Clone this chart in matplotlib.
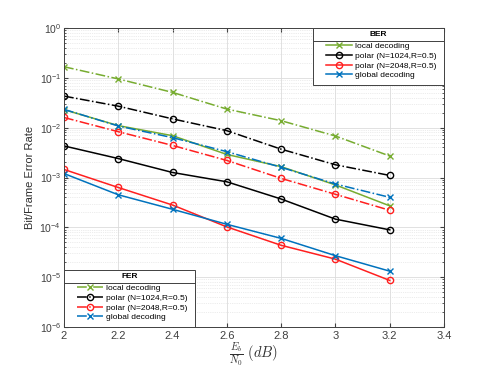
import numpy as np
import matplotlib.pyplot as plt
from matplotlib.patches import Rectangle

snr = [2.0, 2.2, 2.4, 2.6, 2.8, 3.0, 3.2]

# BER (solid)
ber_local = [0.023, 0.011, 0.0069, 0.0029, 0.00165, 0.00071, 0.00027]
ber_polar1024 = [0.0043, 0.0024, 0.00126, 0.00082, 0.00037, 0.000146, 0.000089]
ber_polar2048 = [0.00145, 0.00063, 0.00028, 0.000102, 0.0000436, 0.000023, 0.0000086]
ber_global = [0.0012, 0.00045, 0.00023, 0.000115, 0.00006, 0.000027, 0.0000132]

# FER (dash-dot)
fer_local = [0.167, 0.095, 0.051, 0.0236, 0.0138, 0.0068, 0.0027]
fer_polar1024 = [0.043, 0.027, 0.015, 0.0087, 0.0037, 0.0018, 0.0011]
fer_polar2048 = [0.016, 0.0083, 0.0044, 0.0022, 0.00096, 0.00046, 0.00022]
fer_global = [0.0233, 0.0108, 0.0063, 0.0033, 0.0016, 0.00074, 0.0004]

labels = ['local decoding', 'polar (N=1024,R=0.5)', 'polar (N=2048,R=0.5)', 'global decoding']
colors = ['#77AC30', '#000000', '#FF1F1F', '#0072BD']
markers = ['x', 'o', 'o', 'x']

plt.rcParams['font.family'] = ['Liberation Sans', 'DejaVu Sans']
plt.rcParams['mathtext.fontset'] = 'cm'
fig = plt.figure(figsize=(4.91, 3.68), dpi=100)
ax = fig.add_axes([64 / 491, 1 - 327 / 368, 380 / 491, 299 / 368])

ber_lines = []
fer_lines = []
for ser, c, m, lab in zip([ber_local, ber_polar1024, ber_polar2048, ber_global], colors, markers, labels):
    l, = ax.semilogy(snr, ser, color=c, marker=m, ls='-', lw=1.1, ms=4.5,
                     mfc='none', mew=1.0, label=lab)
    ber_lines.append(l)
for ser, c, m, lab in zip([fer_local, fer_polar1024, fer_polar2048, fer_global], colors, markers, labels):
    l, = ax.semilogy(snr, ser, color=c, marker=m, ls='-.', lw=1.1, ms=4.5,
                     mfc='none', mew=1.0, label=lab)
    fer_lines.append(l)

ax.set_xlim(2, 3.4)
ax.set_ylim(1e-6, 1)
ax.set_xticks([2, 2.2, 2.4, 2.6, 2.8, 3, 3.2, 3.4])
ax.set_xticklabels(['2', '2.2', '2.4', '2.6', '2.8', '3', '3.2', '3.4'])
ax.grid(True, which='major', color='#dcdcdc', lw=0.6)
ax.grid(True, which='minor', axis='y', color='#dadada', lw=0.5, ls=':')
ax.tick_params(which='both', direction='in', top=True, right=True, labelsize=8,
               colors='#404040', pad=3)
ax.tick_params(axis='y', labelsize=7.5, pad=2)
ax.tick_params(which='major', length=3)
ax.tick_params(which='minor', length=1.5)
for s in ax.spines.values():
    s.set_color('#404040')
    s.set_linewidth(0.7)

ax.set_ylabel('Bit/Frame Error Rate', fontsize=8, color='#303030', labelpad=3)
ax.set_xlabel(r'$\frac{E_b}{N_0}\ (dB)$', fontsize=10.5, color='#303030', labelpad=0)

# legend boxes with a title row (MATLAB style)
def legend_box(x0, y0, title, handles, anchor):
    w, h, th = 0.345, 0.19, 0.0445
    ax.add_patch(Rectangle((x0, y0), w, h, transform=ax.transAxes, fc='white',
                           ec='#404040', lw=0.7, zorder=5))
    ax.plot([x0, x0 + w], [y0 + h - th, y0 + h - th], transform=ax.transAxes,
            color='#404040', lw=0.7, zorder=6)
    ax.text(x0 + w / 2, y0 + h - th / 2, title, transform=ax.transAxes, ha='center',
            va='center', fontsize=6, fontweight='bold', zorder=6)
    lg = ax.legend(handles=handles, loc='upper left', bbox_to_anchor=anchor,
                   frameon=False, fontsize=6, borderpad=0, borderaxespad=0,
                   handlelength=3.1, handletextpad=0.35, labelspacing=0.22)
    lg.set_zorder(7)
    return lg

leg1 = legend_box(0.655, 0.81, 'BER', ber_lines, (0.689, 0.952))
ax.add_artist(leg1)
leg2 = legend_box(0.0, 0.0, 'FER', fer_lines, (0.035, 0.142))

fig.savefig('out.png', dpi=100)
